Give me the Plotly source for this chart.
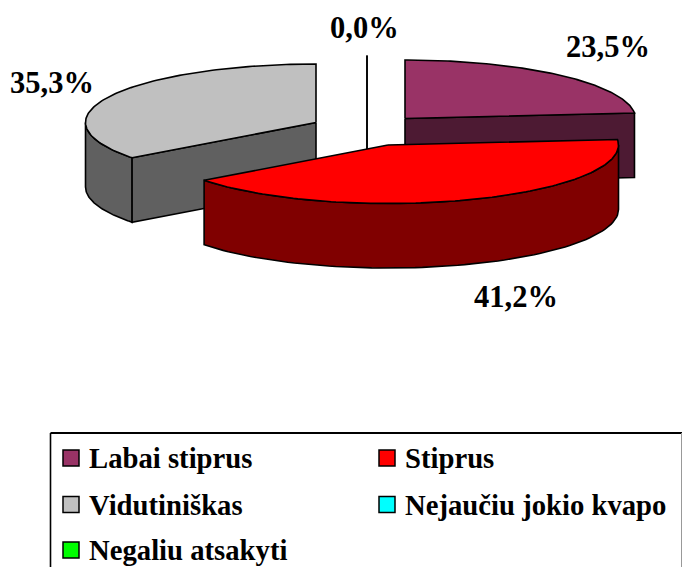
import numpy as np
import plotly.graph_objects as go

categories = ["Labai stiprus", "Stiprus", "Vidutiniškas", "Nejaučiu jokio kvapo", "Negaliu atsakyti"]
values = [23.5, 41.2, 35.3, 0.0, 0.0]
top_colors = ["#993366", "#FF0000", "#C0C0C0", "#00FFFF", "#00FF00"]
side_colors = ["#4D1A33", "#800000", "#606060", "#008080", "#008000"]

FONT = "Liberation Serif"
RX, RY, DEPTH = 230.5, 58.5, 64.5
# exploded apex of every slice, in page pixels
apexes = [(405, 118.5), (388, 145), (316, 122.5), (367, 114), (367, 114)]
label_pos = {0: (608, 47), 1: (515.5, 297), 2: (52, 83), 3: (364.5, 28)}
legend_pos = [(71, 458), (387, 458), (71, 504.5), (387, 504.5), (71, 550)]

fig = go.Figure()


def rim(apex, a):
    r = np.radians(a)
    return apex[0] + RX * np.sin(r), apex[1] - RY * np.cos(r)


def poly(xs, ys, fill):
    fig.add_trace(go.Scatter(
        x=list(xs), y=list(ys), mode="lines", fill="toself", fillcolor=fill,
        line=dict(color="black", width=1.6), hoverinfo="skip", showlegend=False))


def wedge(apex, a0, a1, top, side):
    # visible outer wall (front half of the ellipse)
    lo, hi = max(a0, 90), min(a1, 270)
    if hi > lo:
        t = np.linspace(lo, hi, 80)
        x, y = rim(apex, t)
        poly(np.r_[x, x[::-1], x[0]], np.r_[y, y[::-1] + DEPTH, y[0]], side)
    # visible cut faces
    for a, vis in ((a0, a0 > 180), (a1, 0 < a1 < 180)):
        if vis:
            x, y = rim(apex, a)
            if a < 360:
                poly([apex[0], x, x, apex[0], apex[0]],
                     [apex[1], y, y + DEPTH, apex[1] + DEPTH, apex[1]], side)
    # top face
    t = np.linspace(a0, a1, 120)
    x, y = rim(apex, t)
    poly(np.r_[apex[0], x, apex[0]], np.r_[apex[1], y, apex[1]], top)


cum = np.cumsum([0] + values) / sum(values) * 360
starts, ends = cum[:-1], cum[1:]

# paint back-to-front: zero slices, first slice, third slice, second slice
for i in [3, 4, 0, 2, 1]:
    if values[i] == 0:
        x, y = rim(apexes[i], ends[i])
        fig.add_trace(go.Scatter(
            x=[x, x], y=[y, y + RY + DEPTH], mode="lines",
            line=dict(color="black", width=1.6), hoverinfo="skip", showlegend=False))
    else:
        wedge(apexes[i], starts[i], ends[i], top_colors[i], side_colors[i])

annotations = []
for i, (x, y) in label_pos.items():
    annotations.append(dict(
        x=x, y=y, xref="x", yref="y", showarrow=False, xanchor="center", yanchor="middle",
        text="<b>" + f"{values[i]:.1f}".replace(".", ",") + "%</b>",
        font=dict(family=FONT, size=30.5, color="black")))

for name, col, (x, y) in zip(categories, top_colors, legend_pos):
    fig.add_trace(go.Scatter(
        x=[x], y=[y], mode="markers",
        marker=dict(symbol="square", size=16, color=col, line=dict(color="black", width=1.5)),
        hoverinfo="skip", showlegend=False))
    annotations.append(dict(
        x=x + 16, y=y, xref="x", yref="y", showarrow=False, xanchor="left", yanchor="middle",
        text="<b>" + name + "</b>", font=dict(family=FONT, size=28.7, color="black")))

fig.update_layout(
    width=682, height=567, autosize=False, margin=dict(l=0, r=0, t=0, b=0),
    paper_bgcolor="white", plot_bgcolor="white",
    xaxis=dict(range=[0, 682], visible=False, fixedrange=True),
    yaxis=dict(range=[567, 0], visible=False, fixedrange=True),
    annotations=annotations,
    shapes=[
        dict(type="line", xref="x", yref="y", x0=50.5, y0=433, x1=682, y1=433,
             line=dict(color="black", width=2), layer="below"),
        dict(type="line", xref="x", yref="y", x0=50.5, y0=433, x1=50.5, y1=567,
             line=dict(color="black", width=1.6), layer="below"),
        dict(type="line", xref="x", yref="y", x0=681.5, y0=433, x1=681.5, y1=567,
             line=dict(color="#999999", width=1), layer="below"),
    ],
)
fig.write_html("out.html", config={"displayModeBar": False},
               post_script="document.body.style.margin='0';document.body.style.overflow='hidden';")
